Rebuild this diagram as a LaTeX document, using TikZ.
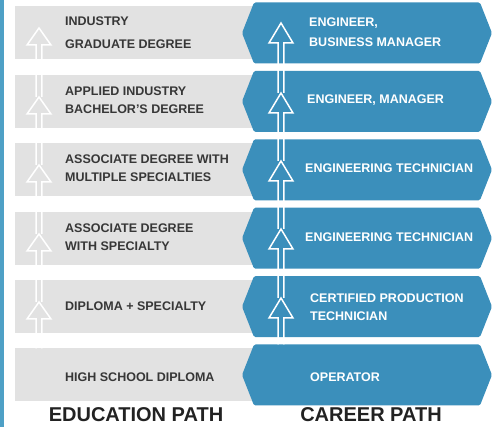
\documentclass[tikz,border=0pt]{standalone}
\usepackage{fontspec}
\setmainfont{Liberation Sans}
\usetikzlibrary{shapes.symbols}

\definecolor{pathblue}{RGB}{59,143,187}
\definecolor{stripblue}{RGB}{78,160,198}
\definecolor{rowgray}{RGB}{226,226,226}
\definecolor{textgray}{RGB}{55,55,55}
\definecolor{titlegray}{RGB}{34,34,34}

\tikzset{
  edubox/.style={rectangle,fill=rowgray,minimum width=247pt,minimum height=53pt,inner sep=0pt},
  jobbox/.style={signal,signal to=west and east,signal pointer angle=137,fill=pathblue,
    minimum width=250pt,minimum height=61pt,inner sep=0pt,rounded corners=1.5pt},
  edutext/.style={anchor=west,inner sep=0pt,align=left,text=textgray,
    font=\bfseries\fontsize{12.5}{18}\selectfont},
  jobtext/.style={anchor=west,inner sep=0pt,align=left,text=white,
    font=\bfseries\fontsize{12.5}{18}\selectfont},
  title/.style={text=titlegray,font=\bfseries\fontsize{20}{22}\selectfont},
  % hollow block arrow from a lower point up to the tip of its head
  climb/.style={draw=white,line width=1.5pt,line join=miter,
    to path={([xshift=-2.8pt]\tikztostart) -- ([xshift=-2.8pt,yshift=-#1pt]\tikztotarget)
      -- ([xshift=-12pt,yshift=-#1pt]\tikztotarget) -- (\tikztotarget)
      -- ([xshift=12pt,yshift=-#1pt]\tikztotarget) -- ([xshift=2.8pt,yshift=-#1pt]\tikztotarget)
      -- ([xshift=2.8pt]\tikztostart)}}
}

\begin{document}
\begin{tikzpicture}[x=1pt,y=-1pt]
    \useasboundingbox (0,0) rectangle (499,427);
    \fill[stripblue] (0,0) rectangle (4,427);

    % education side
    \node(edu1)[edubox] at (138.5,33) {};
    \node(edu2)[edubox] at (138.5,101.4) {};
    \node(edu3)[edubox] at (138.5,169.8) {};
    \node(edu4)[edubox] at (138.5,238.2) {};
    \node(edu5)[edubox] at (138.5,306.6) {};
    \node(edu6)[edubox] at (138.5,375) {};

    % career side
    \node(job1)[jobbox] at (367,33) {};
    \node(job2)[jobbox] at (367,101.4) {};
    \node(job3)[jobbox] at (367,169.8) {};
    \node(job4)[jobbox] at (367,238.2) {};
    \node(job5)[jobbox] at (367,306.6) {};
    \node(job6)[jobbox] at (367,375) {};

    \node(edutxt1)[edutext,font=\bfseries\fontsize{12.5}{23}\selectfont] at (65,33) {INDUSTRY\\GRADUATE DEGREE};
    \node(edutxt2)[edutext] at (65,100) {APPLIED INDUSTRY\\BACHELOR'S DEGREE};
    \node(edutxt3)[edutext] at (65,168) {ASSOCIATE DEGREE WITH\\MULTIPLE SPECIALTIES};
    \node(edutxt4)[edutext] at (65,237) {ASSOCIATE DEGREE\\WITH SPECIALTY};
    \node(edutxt5)[edutext] at (65,306) {DIPLOMA + SPECIALTY};
    \node(edutxt6)[edutext] at (65,377) {HIGH SCHOOL DIPLOMA};

    \node(jobtxt1)[jobtext,font=\bfseries\fontsize{12.5}{20}\selectfont] at (309,32) {ENGINEER,\\BUSINESS MANAGER};
    \node(jobtxt2)[jobtext] at (307,100) {ENGINEER, MANAGER};
    \node(jobtxt3)[jobtext] at (305,168) {ENGINEERING TECHNICIAN};
    \node(jobtxt4)[jobtext] at (305,237) {ENGINEERING TECHNICIAN};
    \node(jobtxt5)[jobtext] at (310,307) {CERTIFIED PRODUCTION\\TECHNICIAN};
    \node(jobtxt6)[jobtext] at (310,377) {OPERATOR};

    % arrow tips
    \coordinate (gt1) at (39,28);
    \coordinate (gt2) at (39,97);
    \coordinate (gt3) at (39,165);
    \coordinate (gt4) at (39,234);
    \coordinate (gt5) at (39,302);
    \coordinate (bt1) at (281,23);
    \coordinate (bt2) at (281,93);
    \coordinate (bt3) at (281,161);
    \coordinate (bt4) at (281,229);
    \coordinate (bt5) at (281,298);

    \draw[climb=17] (edu6.north -| gt5) to (gt5);
    \draw[climb=17] (gt5) to (gt4);
    \draw[climb=17] (gt4) to (gt3);
    \draw[climb=17] (gt3) to (gt2);
    \draw[climb=17] (gt2) to (gt1);
    \draw[climb=20] (job6.north -| bt5) to (bt5);
    \draw[climb=20] (bt5) to (bt4);
    \draw[climb=20] (bt4) to (bt3);
    \draw[climb=20] (bt3) to (bt2);
    \draw[climb=20] (bt2) to (bt1);

    \node(edutitle)[title] at (136,415) {EDUCATION PATH};
    \node(jobtitle)[title] at (371,415) {CAREER PATH};
  \end{tikzpicture}
\end{document}
